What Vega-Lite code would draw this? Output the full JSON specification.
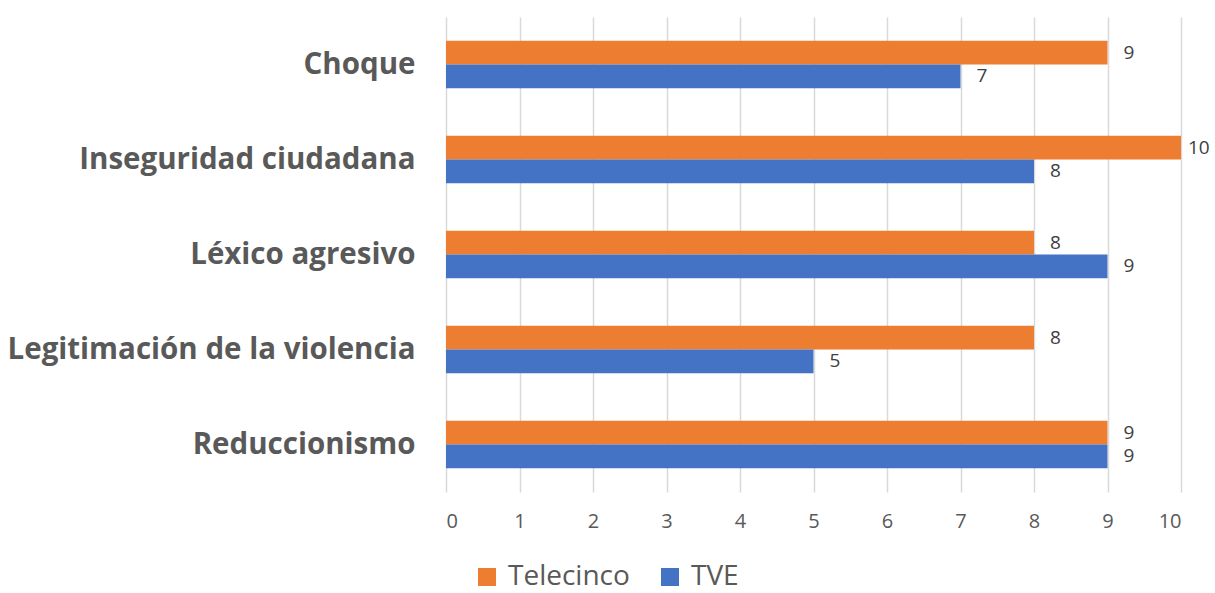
{
  "$schema": "https://vega.github.io/schema/vega-lite/v6.json",
  "width": 735,
  "height": 475,
  "autosize": {"type": "none"},
  "padding": {"left": 446, "top": 17, "right": 34, "bottom": 101},
  "background": "white",
  "config": {
    "font": "Open Sans",
    "view": {"stroke": null}
  },
  "data": {
    "values": [
      {"categoria": "Choque", "serie": "Telecinco", "valor": 9},
      {"categoria": "Choque", "serie": "TVE", "valor": 7},
      {"categoria": "Inseguridad ciudadana", "serie": "Telecinco", "valor": 10},
      {"categoria": "Inseguridad ciudadana", "serie": "TVE", "valor": 8},
      {"categoria": "Léxico agresivo", "serie": "Telecinco", "valor": 8},
      {"categoria": "Léxico agresivo", "serie": "TVE", "valor": 9},
      {"categoria": "Legitimación de la violencia", "serie": "Telecinco", "valor": 8},
      {"categoria": "Legitimación de la violencia", "serie": "TVE", "valor": 5},
      {"categoria": "Reduccionismo", "serie": "Telecinco", "valor": 9},
      {"categoria": "Reduccionismo", "serie": "TVE", "valor": 9}
    ]
  },
  "encoding": {
    "y": {
      "field": "categoria",
      "type": "nominal",
      "sort": ["Choque", "Inseguridad ciudadana", "Léxico agresivo", "Legitimación de la violencia", "Reduccionismo"],
      "scale": {"paddingInner": 0.5, "paddingOuter": 0.25},
      "axis": {
        "title": null,
        "domain": false,
        "ticks": false,
        "labelFontSize": 29.5,
        "labelFontWeight": "bold",
        "labelColor": "#595959",
        "labelPadding": 31,
        "labelLimit": 500
      }
    },
    "yOffset": {"field": "serie", "type": "nominal", "sort": ["Telecinco", "TVE"]},
    "x": {
      "field": "valor",
      "type": "quantitative",
      "scale": {"domain": [0, 10], "nice": false},
      "axis": {
        "title": null,
        "domain": false,
        "ticks": false,
        "values": [0, 1, 2, 3, 4, 5, 6, 7, 8, 9, 10],
        "labelOverlap": false,
        "grid": true,
        "gridColor": "#D9D9D9",
        "gridWidth": 1.5,
        "labelFontSize": 20,
        "labelColor": "#595959",
        "labelPadding": 19
      }
    }
  },
  "layer": [
    {
      "mark": {"type": "bar"},
      "encoding": {
        "color": {
          "field": "serie",
          "type": "nominal",
          "sort": ["Telecinco", "TVE"],
          "scale": {"domain": ["Telecinco", "TVE"], "range": ["#ED7D31", "#4472C4"]},
          "legend": {
            "orient": "none",
            "legendX": 27,
            "legendY": 546,
            "direction": "horizontal",
            "title": null,
            "symbolType": "square",
            "symbolSize": 324,
            "symbolStrokeWidth": 0,
            "labelFontSize": 28,
            "labelColor": "#595959",
            "labelOffset": 7,
            "labelLimit": 400,
            "columnPadding": 26
          }
        }
      }
    },
    {
      "transform": [{"filter": "datum.valor < 10"}],
      "mark": {"type": "text", "align": "left", "baseline": "middle", "dx": 16, "fontSize": 19, "color": "#404040"},
      "encoding": {
        "text": {"field": "valor", "type": "quantitative"}
      }
    },
    {
      "transform": [{"filter": "datum.valor >= 10"}],
      "mark": {"type": "text", "align": "left", "baseline": "middle", "dx": 7, "fontSize": 19, "color": "#404040"},
      "encoding": {
        "text": {"field": "valor", "type": "quantitative"}
      }
    }
  ]
}
